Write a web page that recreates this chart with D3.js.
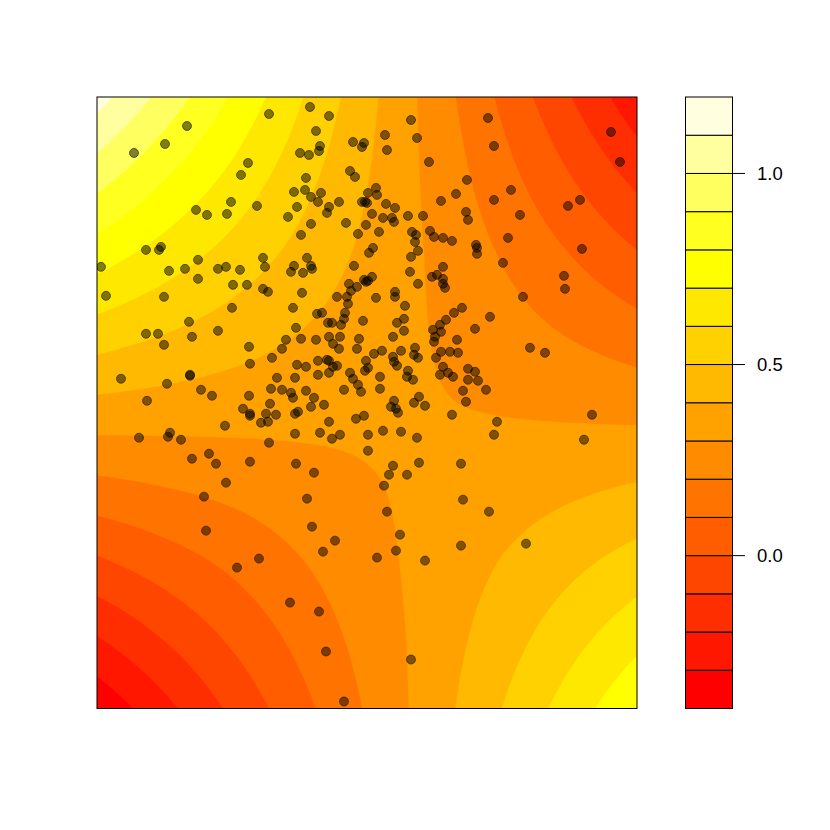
<!DOCTYPE html>
<html>
<head>
<meta charset="utf-8">
<script src="https://cdn.jsdelivr.net/npm/d3@7"></script>
<style>
  html, body { margin: 0; padding: 0; background: #fff; }
  svg { display: block; }
  .key-label { font-family: "Liberation Sans", Arial, Helvetica, sans-serif; font-size: 18.5px; }
</style>
</head>
<body>
<div id="chart"></div>
<script>
// surface on a coarse grid (x across, y up)
const gridX = [-2.7, -1.35, 0, 1.35, 2.7];
const gridY = [-3.06, -1.53, 0, 1.53, 3.06];
const gridZ = [
  [-0.38, -0.08, 0.21, 0.5, 0.79],
  [0.0, 0.13, 0.27, 0.4, 0.53],
  [0.38, 0.35, 0.32, 0.29, 0.26],
  [0.76, 0.57, 0.38, 0.19, 0.0],
  [1.14, 0.79, 0.43, 0.08, -0.27],
];

const levels = [
  -0.4, -0.3, -0.2, -0.1, 0, 0.1, 0.2, 0.3, 0.4, 0.5, 0.6, 0.7, 0.8, 0.9, 1.0,
  1.1, 1.2,
];
// heat.colors(16)
const heatColors = [
  "#FF0000", "#FF1700", "#FF2E00", "#FF4600", "#FF5D00", "#FF7400",
  "#FF8B00", "#FFA200", "#FFB900", "#FFD100", "#FFE800", "#FFFF00",
  "#FFFF20", "#FFFF60", "#FFFF9F", "#FFFFDF",
];
const keyTicks = [0, 0.5, 1.0];
const keyTickLabels = ["0.0", "0.5", "1.0"];

const xDomain = [-2.7, 2.7];
const yDomain = [-3.06, 3.06];

// scattered observations
const points = [
  [-0.98, 2.89], [-1.8, 2.77], [-2.02, 2.59], [-2.33, 2.5], [-1.19, 2.4],
  [-1.26, 2.28], [-1.36, 2.01], [-1.1, 1.97], [-1.71, 1.93], [-1.6, 1.88],
  [-1.4, 1.89], [-2.21, 1.53], [-2.06, 1.56], [-2.08, 1.53], [-2.66, 1.36],
  [-1.69, 1.43], [-1.98, 1.32], [-1.82, 1.34], [-1.49, 1.34], [-1.41, 1.36],
  [-1.27, 1.33], [-1.04, 1.45], [-1.02, 1.36], [-1.69, 1.24], [-1.34, 1.18],
  [-1.2, 1.18], [-1.04, 1.14], [-0.99, 1.11], [-2.61, 1.07], [-2.03, 1.06],
  [-0.57, 2.96], [-0.38, 2.87], [0.44, 2.83], [-0.51, 2.72], [0.18, 2.68],
  [0.5, 2.65], [-0.14, 2.61], [-0.03, 2.6], [-0.05, 2.56], [-0.47, 2.57],
  [-0.48, 2.52], [-0.67, 2.5], [-0.58, 2.48], [0.2, 2.53], [0.62, 2.41],
  [-0.17, 2.32], [-0.12, 2.26], [-0.61, 2.25], [0.09, 2.15], [0.01, 2.1],
  [0.1, 2.08], [0.89, 2.09], [-0.73, 2.11], [-0.62, 2.13], [-0.56, 2.06],
  [-0.46, 2.1], [-0.49, 2.01], [-0.28, 2.01], [-0.05, 2.01], [-0.02, 2.01],
  [0.0, 2.0], [0.74, 2.02], [0.19, 1.99], [0.28, 1.95], [-0.38, 1.96],
  [-0.4, 1.9], [-0.7, 1.96], [-0.79, 1.86], [0.05, 1.89], [0.16, 1.85],
  [0.25, 1.85], [0.27, 1.81], [0.41, 1.87], [0.56, 1.87], [-0.21, 1.8],
  [-0.56, 1.79], [-0.01, 1.78], [-0.09, 1.69], [0.12, 1.71], [-0.66, 1.68],
  [0.45, 1.71], [0.49, 1.68], [0.48, 1.61], [0.63, 1.72], [0.67, 1.66],
  [0.76, 1.65], [0.85, 1.62], [0.06, 1.55], [0.02, 1.5], [0.51, 1.52],
  [0.44, 1.46], [-0.6, 1.45], [-0.73, 1.37], [-0.76, 1.31], [-0.64, 1.3],
  [-0.56, 1.37], [-0.55, 1.34], [-0.13, 1.37], [0.43, 1.31], [0.76, 1.36],
  [0.65, 1.26], [0.7, 1.28], [0.76, 1.24], [0.76, 1.19], [0.78, 1.15],
  [0.05, 1.26], [-0.03, 1.23], [0.01, 1.22], [-0.01, 1.21], [-0.18, 1.19],
  [-0.1, 1.16], [-0.16, 1.12], [0.51, 1.19], [0.28, 1.11], [0.28, 1.06],
  [-0.65, 1.1], [-0.3, 1.06], [-0.2, 1.06], [0.09, 1.05],
  [1.21, 2.85], [2.44, 2.71], [1.27, 2.57], [2.53, 2.41], [1.0, 2.23],
  [1.44, 2.13], [1.27, 2.03], [2.01, 1.97], [2.13, 2.03], [0.99, 1.91],
  [1.01, 1.83], [1.53, 1.88], [1.41, 1.65], [1.09, 1.58], [1.1, 1.55],
  [1.1, 1.49], [2.15, 1.54], [1.36, 1.4], [1.97, 1.27], [1.98, 1.14],
  [1.56, 1.06],
  [-1.35, 0.95], [-1.78, 0.81], [-2.21, 0.69], [-2.09, 0.69], [-1.49, 0.72],
  [-1.75, 0.66], [-2.03, 0.58], [-1.18, 0.56], [-0.95, 0.45], [-1.17, 0.39],
  [-2.46, 0.24], [-1.77, 0.28], [-1.77, 0.27], [-2.0, 0.19], [-0.9, 0.25],
  [-0.96, 0.14], [-1.66, 0.13], [-1.55, 0.07], [-2.2, 0.02], [-1.18, 0.07],
  [-0.97, -0.01], [-1.24, -0.06], [-1.17, -0.11], [-1.17, -0.13], [-1.01, -0.11],
  [-1.06, -0.2], [-0.99, -0.19], [-0.91, -0.12], [-1.42, -0.23], [-1.97, -0.3],
  [-1.99, -0.34], [-2.28, -0.35], [-1.86, -0.37], [-0.98, -0.4], [-1.75, -0.56],
  [-1.58, -0.51], [-1.51, -0.61], [-1.17, -0.59], [-1.41, -0.8], [-1.63, -0.94],
  [-0.19, 0.99], [-0.74, 0.95], [0.38, 0.97], [-0.5, 0.89], [-0.45, 0.9],
  [-0.22, 0.9], [-0.23, 0.84], [-0.39, 0.8], [-0.35, 0.8], [-0.26, 0.78],
  [-0.04, 0.82], [0.3, 0.8], [0.37, 0.84], [0.37, 0.72], [-0.71, 0.75],
  [-0.81, 0.63], [-0.66, 0.64], [-0.51, 0.63], [-0.38, 0.66], [-0.27, 0.66],
  [-0.34, 0.59], [-0.28, 0.54], [-0.08, 0.64], [-0.1, 0.54], [0.26, 0.66],
  [-0.85, 0.54], [0.07, 0.49], [0.15, 0.52], [0.34, 0.52], [0.48, 0.55],
  [0.47, 0.48], [0.51, 0.45], [0.26, 0.46], [0.27, 0.41], [0.3, 0.37],
  [-0.01, 0.42], [0.01, 0.35], [-0.02, 0.32], [-0.49, 0.42], [-0.4, 0.43],
  [-0.38, 0.42], [-0.34, 0.36], [-0.3, 0.37], [-0.7, 0.38], [-0.61, 0.36],
  [-0.72, 0.25], [-0.49, 0.28], [-0.38, 0.3], [-0.17, 0.3], [-0.14, 0.24],
  [-0.09, 0.18], [-0.06, 0.11], [-0.23, 0.13], [0.13, 0.26], [0.13, 0.14],
  [0.41, 0.32], [0.4, 0.26], [0.46, 0.23], [-0.85, 0.13], [-0.76, 0.1],
  [-0.74, 0.05], [-0.61, 0.12], [-0.53, 0.05], [-0.56, -0.04], [-0.43, -0.02],
  [-0.72, -0.11], [-0.69, -0.09], [0.27, 0.02], [0.24, -0.04], [0.29, -0.06],
  [0.31, -0.1], [0.52, 0.06], [0.47, 0.0], [0.58, -0.03], [0.85, -0.12],
  [-0.38, -0.19], [-0.11, -0.16], [-0.03, -0.13], [-0.72, -0.31], [-0.47, -0.3],
  [-0.35, -0.36], [-0.27, -0.32], [0.01, -0.32], [0.16, -0.28], [0.34, -0.29],
  [0.5, -0.35], [0.01, -0.48], [-0.71, -0.61], [-0.53, -0.7], [0.26, -0.63],
  [0.22, -0.72], [0.4, -0.72], [0.52, -0.6], [0.17, -0.83], [-0.6, -0.96],
  [0.87, 0.9], [0.79, 0.83], [0.73, 0.78], [0.66, 0.73], [0.74, 0.71],
  [0.68, 0.66], [0.67, 0.61], [0.9, 0.63], [0.74, 0.51], [0.69, 0.45],
  [0.83, 0.51], [0.91, 0.5], [0.76, 0.36], [0.73, 0.28], [0.81, 0.3],
  [0.86, 0.26],
  [0.95, 0.95], [1.23, 0.86], [1.08, 0.74], [1.63, 0.55], [1.78, 0.5],
  [1.01, 0.34], [1.08, 0.31], [1.01, 0.23], [1.11, 0.22], [1.19, 0.13],
  [0.96, 0.12], [0.99, 0.01], [2.25, -0.12], [1.3, -0.19], [1.27, -0.32],
  [2.17, -0.37], [0.94, -0.61], [0.96, -0.97],
  [-1.61, -1.28], [-1.3, -1.65], [-1.08, -1.56],
  [0.2, -1.09], [-0.55, -1.24], [-0.32, -1.38], [-0.44, -1.49], [0.33, -1.32],
  [0.29, -1.48], [0.1, -1.55], [0.58, -1.58], [-0.77, -2.0], [-0.48, -2.09],
  [-0.41, -2.49], [0.44, -2.57], [-0.23, -2.99],
  [1.22, -1.09], [0.94, -1.43], [1.59, -1.41],
];

class VisFilledContour {
  constructor({ el }) {
    this.el = el;
    this.initVis();
  }

  initVis() {
    this.width = 830;
    this.height = 830;
    this.plot = { left: 97, right: 637, top: 97, bottom: 708.5 };
    this.key = { left: 685.5, right: 732.5 };
    this.tickLength = 12.5;
    this.pointRadius = 4.5;

    this.x = d3.scaleLinear().domain(xDomain).range([this.plot.left, this.plot.right]);
    this.y = d3.scaleLinear().domain(yDomain).range([this.plot.bottom, this.plot.top]);
    this.z = d3
      .scaleLinear()
      .domain([levels[0], levels[levels.length - 1]])
      .range([this.plot.bottom, this.plot.top]);

    this.svg = d3
      .select(this.el)
      .append("svg")
      .attr("width", this.width)
      .attr("height", this.height);
    this.svg
      .append("rect")
      .attr("width", this.width)
      .attr("height", this.height)
      .attr("fill", "#fff");

    this.svg
      .append("defs")
      .append("clipPath")
      .attr("id", "plot-clip")
      .append("rect")
      .attr("x", this.plot.left)
      .attr("y", this.plot.top)
      .attr("width", this.plot.right - this.plot.left)
      .attr("height", this.plot.bottom - this.plot.top);

    this.renderSurface();
    this.renderPoints();
    this.renderFrame();
    this.renderKey();
  }

  // bilinear look-up in the coarse grid
  surfaceAt(xv, yv) {
    const i = Math.max(0, Math.min(gridX.length - 2, d3.bisectRight(gridX, xv) - 1));
    const j = Math.max(0, Math.min(gridY.length - 2, d3.bisectRight(gridY, yv) - 1));
    const t = (xv - gridX[i]) / (gridX[i + 1] - gridX[i]);
    const s = (yv - gridY[j]) / (gridY[j + 1] - gridY[j]);
    return (
      gridZ[j][i] * (1 - t) * (1 - s) +
      gridZ[j][i + 1] * t * (1 - s) +
      gridZ[j + 1][i] * (1 - t) * s +
      gridZ[j + 1][i + 1] * t * s
    );
  }

  renderSurface() {
    const n = 540;
    const m = 612;
    const xSpan = xDomain[1] - xDomain[0];
    const ySpan = yDomain[1] - yDomain[0];
    const values = new Float64Array(n * m);
    for (let j = 0; j < m; j++) {
      const yv = yDomain[1] - ((j + 0.5) / m) * ySpan;
      for (let i = 0; i < n; i++) {
        const xv = xDomain[0] + ((i + 0.5) / n) * xSpan;
        values[j * n + i] = this.surfaceAt(xv, yv);
      }
    }

    const contours = d3
      .contours()
      .size([n, m])
      .thresholds(levels.slice(0, -1))(values);

    const x = this.x;
    const y = this.y;
    const path = d3.geoPath(
      d3.geoTransform({
        point(px, py) {
          this.stream.point(
            x(xDomain[0] + (px / n) * xSpan),
            y(yDomain[1] - (py / m) * ySpan)
          );
        },
      })
    );

    this.svg
      .append("g")
      .attr("class", "surface")
      .attr("clip-path", "url(#plot-clip)")
      .selectAll("path")
      .data(contours)
      .join("path")
      .attr("d", path)
      .attr("fill", (d, i) => heatColors[i])
      .attr("stroke", (d, i) => heatColors[i])
      .attr("stroke-width", 0.4);
  }

  renderPoints() {
    this.svg
      .append("g")
      .attr("class", "points")
      .attr("clip-path", "url(#plot-clip)")
      .selectAll("circle")
      .data(points)
      .join("circle")
      .attr("cx", (d) => this.x(d[0]))
      .attr("cy", (d) => this.y(d[1]))
      .attr("r", this.pointRadius)
      .attr("fill", "rgba(0,0,0,0.5)")
      .attr("stroke", "rgba(0,0,0,0.5)")
      .attr("stroke-width", 1);
  }

  renderFrame() {
    this.svg
      .append("rect")
      .attr("x", this.plot.left)
      .attr("y", this.plot.top)
      .attr("width", this.plot.right - this.plot.left)
      .attr("height", this.plot.bottom - this.plot.top)
      .attr("fill", "none")
      .attr("stroke", "#000")
      .attr("stroke-width", 1);
  }

  renderKey() {
    const gKey = this.svg.append("g").attr("class", "key");
    gKey
      .selectAll("rect")
      .data(heatColors)
      .join("rect")
      .attr("x", this.key.left)
      .attr("width", this.key.right - this.key.left)
      .attr("y", (d, i) => this.z(levels[i + 1]))
      .attr("height", (d, i) => this.z(levels[i]) - this.z(levels[i + 1]))
      .attr("fill", (d) => d)
      .attr("stroke", "#000")
      .attr("stroke-width", 1);

    const tick = gKey
      .selectAll(".key-tick")
      .data(keyTicks)
      .join("g")
      .attr("class", "key-tick")
      .attr("transform", (d) => `translate(${this.key.right},${this.z(d)})`);
    tick
      .append("line")
      .attr("x2", this.tickLength)
      .attr("stroke", "#000")
      .attr("stroke-width", 1);
    tick
      .append("text")
      .attr("class", "key-label")
      .attr("x", 24.5)
      .attr("dy", "0.36em")
      .attr("fill", "#000")
      .text((d, i) => keyTickLabels[i]);
  }
}

new VisFilledContour({ el: document.getElementById("chart") });
</script>
</body>
</html>
